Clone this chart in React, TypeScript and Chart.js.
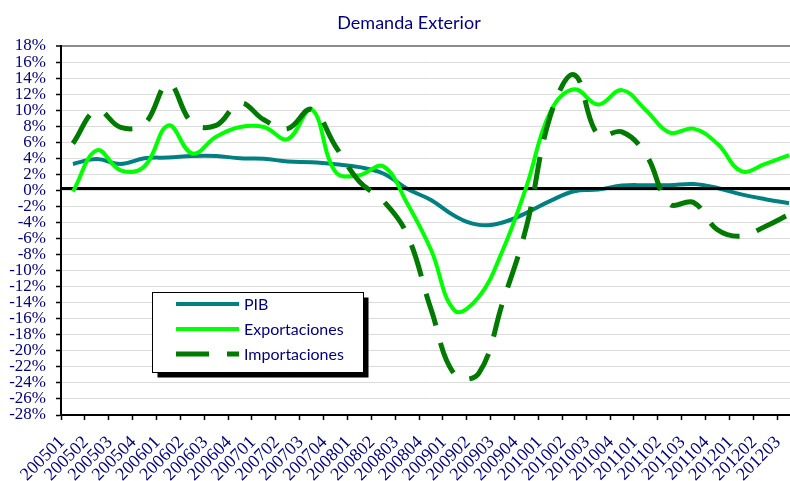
import React, { useEffect, useRef } from "react";
import { Chart, registerables } from "chart.js";

Chart.register(...registerables);

const TITLE = "Demanda Exterior";

const LABELS = [
  "200501", "200502", "200503", "200504",
  "200601", "200602", "200603", "200604",
  "200701", "200702", "200703", "200704",
  "200801", "200802", "200803", "200804",
  "200901", "200902", "200903", "200904",
  "201001", "201002", "201003", "201004",
  "201101", "201102", "201103", "201104",
  "201201", "201202", "201203",
];

const PIB = [3.3, 3.9, 3.3, 4.0, 4.1, 4.3, 4.3, 4.0, 3.95, 3.6, 3.5, 3.25, 2.9, 2.1, 0.2, -1.2, -3.2, -4.3, -4.0, -2.8, -1.3, -0.1, 0.1, 0.6, 0.65, 0.65, 0.8, 0.3, -0.5, -1.1, -1.6];
const EXPORTACIONES = [-0.15, 5.0, 2.5, 3.0, 8.1, 4.6, 6.7, 7.9, 7.9, 6.4, 10.1, 2.3, 1.9, 3.0, -1.6, -7.4, -15.0, -13.3, -7.5, 0.5, 9.8, 12.6, 10.7, 12.5, 10.0, 7.2, 7.7, 5.8, 2.4, 3.3, 4.4];
const IMPORTACIONES = [5.85, 10.0, 7.85, 8.3, 13.3, 8.4, 8.1, 10.9, 8.8, 7.7, 10.1, 5.5, 1.1, -1.3, -5.5, -14.8, -23.0, -22.8, -14.0, -4.5, 9.3, 14.4, 6.9, 7.3, 4.5, -1.7, -1.5, -4.9, -5.7, -4.5, -3.0];

const Y_MIN = -28;
const Y_MAX = 18;
const Y_STEP = 2;
const REF_LINE = 0.25;

const NAVY = "#000080";
const C_PIB = "#008080";
const C_EXP = "#00ff00";
const C_IMP = "#007a00";
const IMP_DASH = [33, 18];

const SERIES_NAMES = ["PIB", "Exportaciones", "Importaciones"];

const overlayPlugin = {
  id: "overlay",
  afterDatasetDraw(chart: any, args: any) {
    if (args.index !== 0) return;
    const { ctx, chartArea } = chart;
    const y = chart.scales.y.getPixelForValue(REF_LINE);
    ctx.save();
    ctx.strokeStyle = "#000000";
    ctx.lineWidth = 3;
    ctx.beginPath();
    ctx.moveTo(chartArea.left, y);
    ctx.lineTo(chartArea.right, y);
    ctx.stroke();
    ctx.restore();
  },
  afterDraw(chart: any) {
    const { ctx } = chart;
    ctx.save();
    // title
    ctx.fillStyle = NAVY;
    ctx.font = "18px Lato";
    ctx.textAlign = "center";
    ctx.textBaseline = "alphabetic";
    ctx.fillText(TITLE, 409, 29);

    // legend box
    const bx = 152.5, by = 292.5, bw = 211, bh = 80;
    ctx.fillStyle = "#000000";
    ctx.fillRect(bx + 5, by + 5, bw, bh);
    ctx.fillStyle = "#ffffff";
    ctx.fillRect(bx, by, bw, bh);
    ctx.strokeStyle = "#000000";
    ctx.lineWidth = 1;
    ctx.strokeRect(bx, by, bw, bh);

    const rows = [304, 329, 354];
    const colors = [C_PIB, C_EXP, C_IMP];
    const widths = [4, 4, 5];
    rows.forEach((ry, i) => {
      ctx.strokeStyle = colors[i];
      ctx.lineWidth = widths[i];
      ctx.lineCap = "butt";
      ctx.setLineDash(i === 2 ? IMP_DASH : []);
      ctx.beginPath();
      ctx.moveTo(176, ry);
      ctx.lineTo(239, ry);
      ctx.stroke();
      ctx.setLineDash([]);
      ctx.fillStyle = NAVY;
      ctx.font = "16px Lato";
      ctx.textAlign = "left";
      ctx.textBaseline = "middle";
      ctx.fillText(SERIES_NAMES[i], 244, ry + 1);
    });
    ctx.restore();
  },
};

export default function App() {
  const ref = useRef<HTMLCanvasElement | null>(null);

  useEffect(() => {
    const canvas = ref.current;
    if (!canvas) return;
    const chart = new Chart(canvas, {
      type: "line",
      data: {
        labels: LABELS,
        datasets: [
          {
            label: SERIES_NAMES[0],
            data: PIB,
            borderColor: C_PIB,
            borderWidth: 4,
            pointRadius: 0,
            tension: 0.4,
            fill: false,
            order: 3,
          },
          {
            label: SERIES_NAMES[1],
            data: EXPORTACIONES,
            borderColor: C_EXP,
            borderWidth: 4,
            pointRadius: 0,
            tension: 0.4,
            fill: false,
            order: 2,
          },
          {
            label: SERIES_NAMES[2],
            data: IMPORTACIONES,
            borderColor: C_IMP,
            borderWidth: 5,
            borderDash: IMP_DASH,
            pointRadius: 0,
            tension: 0.4,
            fill: false,
            order: 1,
          },
        ],
      },
      options: {
        animation: false,
        responsive: false,
        devicePixelRatio: 1,
        layout: { padding: { top: 46, right: 29, left: 0, bottom: 0 } },
        plugins: {
          legend: { display: false },
          title: { display: false },
          tooltip: { enabled: false },
        },
        scales: {
          x: {
            type: "category",
            offset: true,
            grid: {
              offset: true,
              drawOnChartArea: false,
              drawTicks: true,
              tickLength: 5,
              tickColor: "#000000",
              tickWidth: 1.5,
            },
            border: { display: true, color: "#000000", width: 2 },
            ticks: {
              autoSkip: false,
              maxRotation: 45,
              minRotation: 45,
              padding: 12,
              labelOffset: -11,
              color: NAVY,
              font: { family: "'Liberation Serif'", size: 18 },
            },
            afterFit(scale: any) {
              scale.height = 66;
            },
          },
          y: {
            min: Y_MIN,
            max: Y_MAX,
            grid: {
              color: (c: any) => (c.tick && c.tick.value === Y_MAX ? "#8c8c8c" : "#dcdcdc"),
              lineWidth: (c: any) => (c.tick && c.tick.value === Y_MAX ? 2 : 1),
              drawTicks: true,
              tickLength: 5,
              tickColor: "#000000",
              tickWidth: 1.5,
            },
            border: { display: true, color: "#000000", width: 2 },
            ticks: {
              stepSize: Y_STEP,
              autoSkip: false,
              padding: 10,
              color: NAVY,
              font: { family: "'Liberation Serif'", size: 17 },
              callback: (v: any) => `${v}%`,
            },
            afterFit(scale: any) {
              scale.width = 61;
            },
          },
        },
      },
      plugins: [overlayPlugin],
    });
    return () => chart.destroy();
  }, []);

  return (
    <div
      style={{
        position: "fixed",
        left: 0,
        top: 0,
        width: 790,
        height: 481,
        overflow: "hidden",
        background: "#ffffff",
      }}
    >
      <canvas ref={ref} width={830} height={481} style={{ display: "block" }} />
    </div>
  );
}
